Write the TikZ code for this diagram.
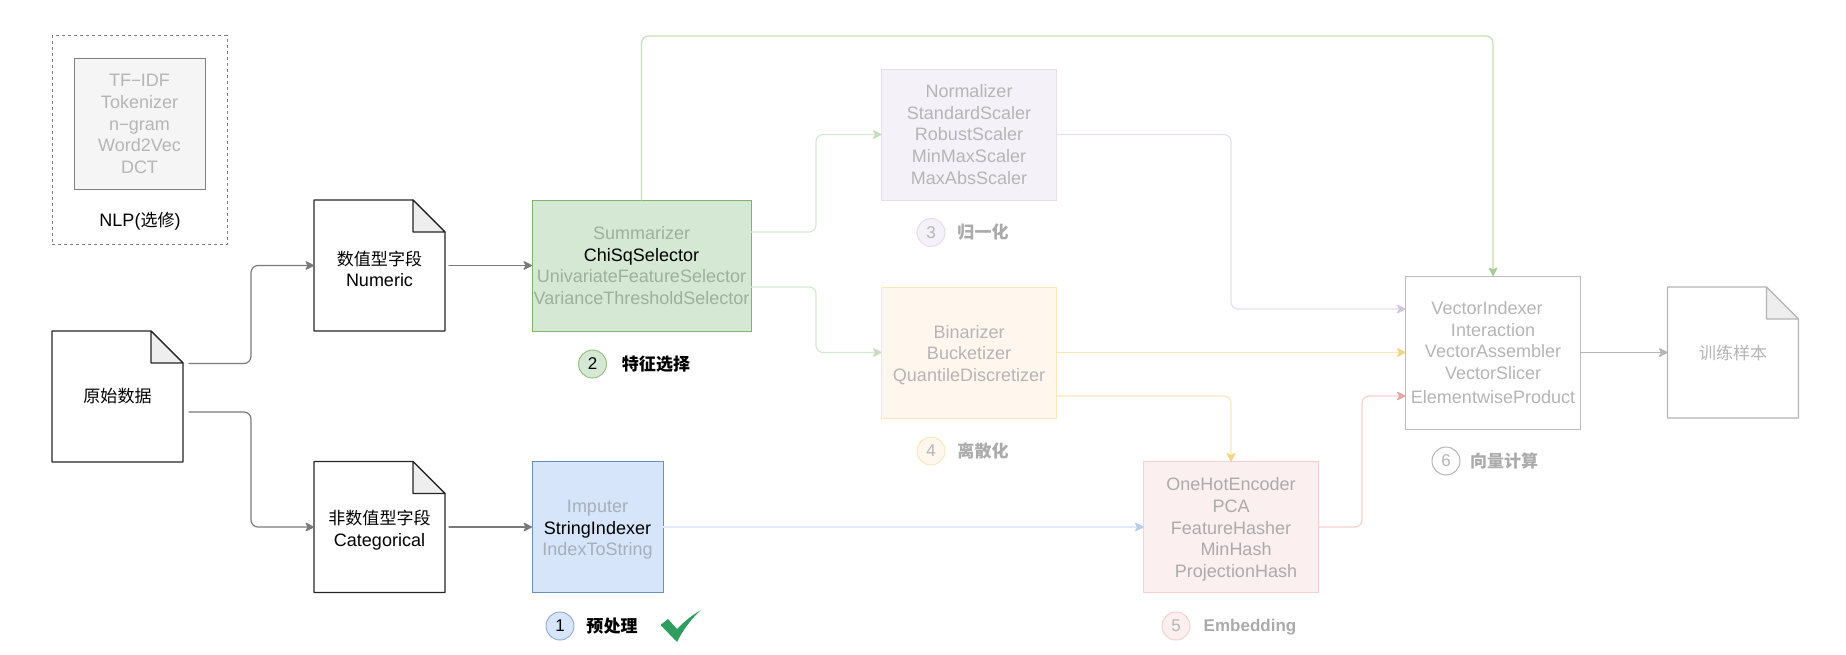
\documentclass[tikz,border=0pt]{standalone}
\usepackage{fontspec}
\usetikzlibrary{arrows.meta,calc}
\setmainfont{Liberation Sans}
\newfontfamily\cjk[Scale=0.945]{Noto Sans CJK SC}

\definecolor{dim}{HTML}{B5B5B5}
\definecolor{dimlabel}{HTML}{ABABAB}
\definecolor{boxgreen}{HTML}{D5E8D4}
\definecolor{edgegreen}{HTML}{82B366}
\definecolor{dimongreen}{HTML}{9DB09C}
\definecolor{boxblue}{HTML}{D6E5FA}
\definecolor{edgeblue}{HTML}{6C8EBF}
\definecolor{dimonblue}{HTML}{A5AFBD}
\definecolor{boxpurple}{HTML}{F5F1F8}
\definecolor{edgepurple}{HTML}{E6DEEB}
\definecolor{boxorange}{HTML}{FFF6EE}
\definecolor{edgeorange}{HTML}{FBE6BD}
\definecolor{boxred}{HTML}{FBEFEF}
\definecolor{edgered}{HTML}{F6D0D0}
\definecolor{boxgrey}{HTML}{F5F5F5}
\definecolor{edgegrey}{HTML}{808080}
\definecolor{linegrey}{HTML}{7A7A7A}
\definecolor{checkgreen}{HTML}{2E9E5F}
\definecolor{linetop}{HTML}{C3DEB8}
\definecolor{tiptop}{HTML}{A3CC92}
\definecolor{tipgreen}{HTML}{C3DFC0}
\definecolor{tipblue}{HTML}{B7CCE8}
\definecolor{tippurple}{HTML}{D5C3E0}
\definecolor{tiporange}{HTML}{F2D680}
\definecolor{tipred}{HTML}{E6A8A8}
\definecolor{foldgrey}{HTML}{EEEEEE}

\tikzset{
  x=1pt, y=-1pt,
  every node/.style={inner sep=0pt, outer sep=0pt},
  txt/.style={font=\fontsize{18}{21.8}\selectfont, align=center},
  stagebox/.style={txt, draw, line width=1pt, rectangle, text=dim},
  caption/.style={font=\cjk\bfseries\fontsize{18}{20}\selectfont},
  badge/.style={circle, minimum size=28pt, line width=1pt, font=\fontsize{17}{20}\selectfont},
  link/.style={line width=1.2pt, rounded corners=7pt, line cap=round},
  tip/.style={-{Stealth[length=10pt,width=10pt,inset=2.8pt,round,color=#1]}},
  pagebox/.style={txt, minimum width=131pt, minimum height=131pt},
}

\pgfdeclarelayer{sheets}
\pgfsetlayers{sheets,main}

% A tall strut on a first line pushes a centred text block down a little.
\newcommand{\lift}[1]{\rule{0pt}{#1}}

% A sheet with a folded corner, built around a named node that carries its text.
\newcommand{\sheet}[6]{%
  \node[pagebox, text=#5] (#1) at (#2,#3) {#6};
  \begin{pgfonlayer}{sheets}
  \draw[line width=1.1pt, draw=#4, fill=white, line join=round]
    (#1.north west) -- ([xshift=-32pt]#1.north east) -- ([yshift=-32pt]#1.north east)
    -- (#1.south east) -- (#1.south west) -- cycle;
  \draw[line width=1.1pt, draw=#4, fill=foldgrey, line join=round]
    ([xshift=-32pt]#1.north east) -- ([yshift=-32pt]#1.north east)
    -- ([xshift=-32pt,yshift=-32pt]#1.north east) -- cycle;
  \end{pgfonlayer}}

\begin{document}
\begin{tikzpicture}
\useasboundingbox (0,0) rectangle (1846,654);

% Optional NLP group
\node[draw=edgegrey, dashed, line width=0.8pt, minimum width=175pt, minimum height=209pt] (nlpgroup) at (139.5,140) {};
\node[stagebox, draw=edgegrey, fill=boxgrey, minimum width=131pt, minimum height=131pt] (nlp) at (139.5,124)
  {TF{\fontsize{17}{21.8}\selectfont−}IDF\\Tokenizer\\n{\fontsize{17}{21.8}\selectfont−}gram\\Word2Vec\\DCT};
\node[txt] (nlpcap) at (140,221) {NLP({\cjk 选修})};

% Source sheets
\sheet{raw}{117.5}{396.5}{black!85}{black}{\cjk 原始数据}
\sheet{num}{379.5}{265.5}{black!85}{black}{\lift{21pt}{\cjk 数值型字段}\\Numeric}
\sheet{cat}{379.5}{527}{black!85}{black}{\lift{20pt}{\cjk 非数值型字段}\\Categorical}
\sheet{out}{1733}{352.5}{dim}{dim}{\cjk 训练样本}

% Processing stages
\node[stagebox, draw=edgegreen, fill=boxgreen, text=dimongreen, minimum width=219pt, minimum height=131pt] (sel) at (641.5,265.5)
  {Summarizer\\{\color{black}ChiSqSelector}\\UnivariateFeatureSelector\\VarianceThresholdSelector};
\node[stagebox, draw=edgeblue, fill=boxblue, text=dimonblue, minimum width=131pt, minimum height=131pt] (pre) at (597.5,527)
  {\lift{18pt}Imputer\\{\color{black}StringIndexer}\\IndexToString};
\node[stagebox, draw=edgepurple, fill=boxpurple, minimum width=175pt, minimum height=131pt] (scale) at (969,134.5)
  {Normalizer\\StandardScaler\\RobustScaler\\MinMaxScaler\\MaxAbsScaler};
\node[stagebox, draw=edgeorange, fill=boxorange, minimum width=175pt, minimum height=131pt] (disc) at (969,352.5)
  {\lift{18pt}Binarizer\\Bucketizer\\QuantileDiscretizer};
\node[stagebox, draw=edgered, fill=boxred, text=dimlabel, minimum width=175pt, minimum height=131pt] (emb) at (1231,527)
  {\lift{18pt}OneHotEncoder\\PCA\\FeatureHasher\\\hspace*{10pt}MinHash\\\hspace*{10pt}ProjectionHash};
\node[stagebox, draw=dim!90!white, fill=white, minimum width=175pt, minimum height=153pt] (vec) at (1493,352.5)
  {VectorIndexer\hspace*{12pt}\\Interaction\hspace*{12pt}\\VectorAssembler\hspace*{12pt}\\VectorSlicer\\[2pt]ElementwiseProduct};

% Stage captions
\node[badge, draw=edgeblue!70!white, fill=boxblue] (b1) at (560,626) {1};
\node[caption] (c1) at (612,626) {预处理};
\node[badge, draw=edgegreen!80!white, fill=boxgreen] (b2) at (592.5,364) {2};
\node[caption] (c2) at (656,364) {特征选择};
\node[badge, draw=edgepurple, fill=boxpurple, text=dim] (b3) at (931,232.5) {3};
\node[caption, text=dimlabel] (c3) at (983,232.5) {归一化};
\node[badge, draw=edgeorange, fill=boxorange, text=dim] (b4) at (931,451) {4};
\node[caption, text=dimlabel] (c4) at (983,451) {离散化};
\node[badge, draw=edgered, fill=boxred, text=dim] (b5) at (1176,626) {5};
\node[text=dimlabel, font=\bfseries\fontsize{17}{20}\selectfont] (c5) at (1250,627) {Embedding};
\node[badge, draw=dim, fill=white, text=dim] (b6) at (1446,461) {6};
\node[caption, text=dimlabel] (c6) at (1504,461) {向量计算};

% Completed-stage tick
\fill[checkgreen] (701,610) .. controls (689,617) and (683,623) .. (677,629)
  -- (668,619) -- (660.5,625) -- (677,642) .. controls (683,630) and (691,619) .. cycle;

% Routing columns and rows
\coordinate (colsrc) at (251,0);
\coordinate (colsel) at (816,0);
\coordinate (coljoin) at (1231,0);
\coordinate (colemb) at (1362,0);
\coordinate (rowtop) at (0,36);

% Source splits
\coordinate (rawhi) at ([xshift=6pt,yshift=33pt]raw.east);
\coordinate (rawlo) at ([xshift=6pt,yshift=-15.5pt]raw.east);
\draw[link, draw=linegrey, tip=linegrey] (rawhi) -- (rawhi -| colsrc) -- (num.west -| colsrc) -- (num.west);
\draw[link, draw=linegrey, tip=linegrey] (rawlo) -- (rawlo -| colsrc) -- (cat.west -| colsrc) -- (cat.west);
\draw[link, draw=linegrey, tip=linegrey, shorten <=4pt] (num.east) -- (sel.west);
\draw[link, draw=linegrey, tip=linegrey, shorten <=4pt] (cat.east) -- (pre.west);

% Feature selection outputs
\coordinate (selhi) at ([yshift=33.5pt]sel.east);
\coordinate (sello) at ([yshift=-21.5pt]sel.east);
\draw[link, draw=boxgreen, tip=tipgreen] (selhi) -- (selhi -| colsel) -- (scale.west -| colsel) -- (scale.west);
\draw[link, draw=boxgreen, tip=tipgreen] (sello) -- (sello -| colsel) -- (disc.west -| colsel) -- (disc.west);
\draw[link, draw=linetop, tip=tiptop] (sel.north) -- (sel.north |- rowtop) -- (vec.north |- rowtop) -- (vec.north);

% Preprocessing to embedding
\draw[link, draw=boxblue!75!white, tip=tipblue] (pre.east) -- (emb.west);

% Routes into the vector stage
\coordinate (vechi) at ([yshift=43.5pt]vec.west);
\coordinate (veclo) at ([yshift=-43.5pt]vec.west);
\coordinate (dischi) at ([yshift=-43.5pt]disc.east);
\draw[link, draw=edgepurple, tip=tippurple] (scale.east) -- (scale.east -| coljoin) -- (vechi -| coljoin) -- (vechi);
\draw[link, draw=edgeorange, tip=tiporange] (disc.east) -- (vec.west);
\draw[link, draw=edgeorange, tip=tiporange] (dischi) -- (dischi -| emb.north) -- (emb.north);
\draw[link, draw=edgered, tip=tipred] (emb.east) -- (emb.east -| colemb) -- (veclo -| colemb) -- (veclo);
\draw[link, draw=dim, tip=dim] (vec.east) -- (out.west);
\end{tikzpicture}
\end{document}
